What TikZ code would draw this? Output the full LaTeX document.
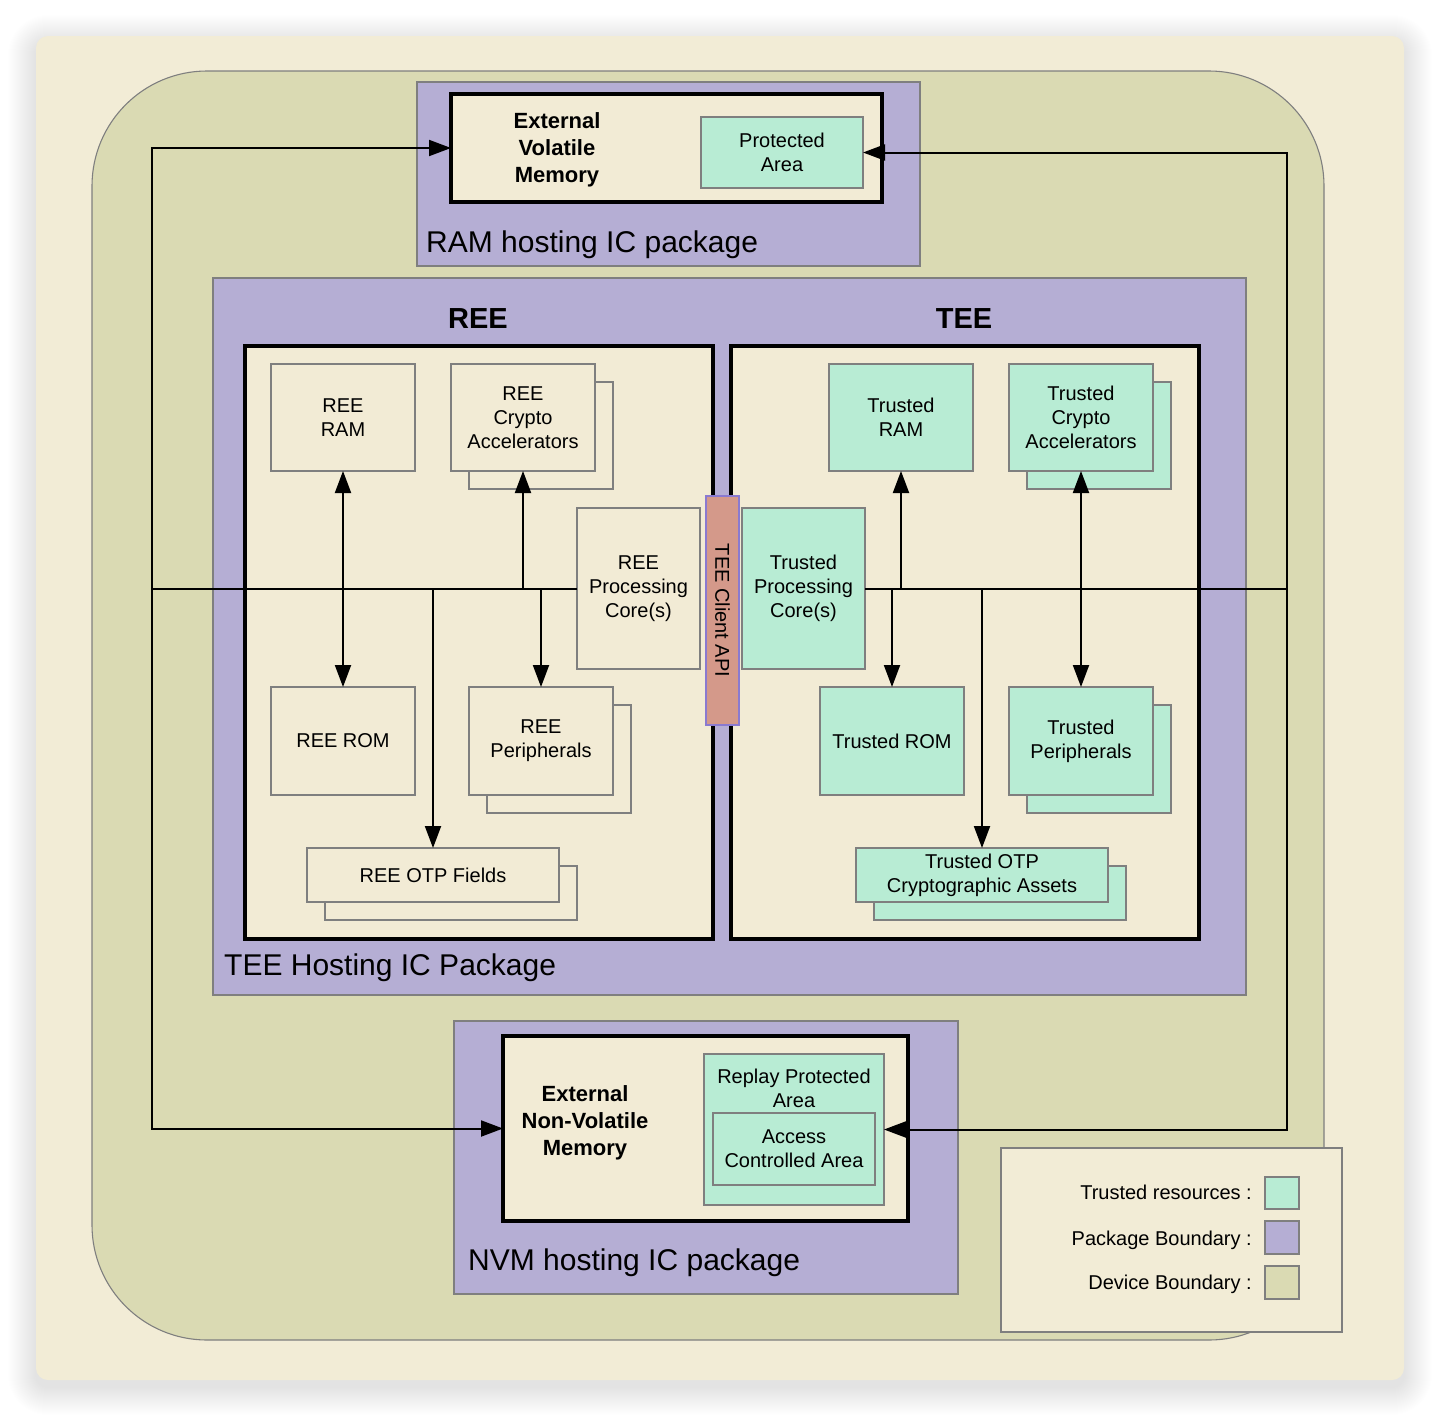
\documentclass[tikz,border=0pt]{standalone}
\usepackage{fontspec}
\setmainfont{Liberation Sans}
\usetikzlibrary{arrows.meta}
\definecolor{card}{HTML}{F2ECD6}
\definecolor{dev}{HTML}{DADAB3}
\definecolor{pkg}{HTML}{B5AED4}
\definecolor{mint}{HTML}{B8ECD4}
\definecolor{inner}{HTML}{F2EBD5}
\definecolor{apifill}{HTML}{D4998A}
\definecolor{apiedge}{HTML}{8A7AD0}
\definecolor{edge}{HTML}{7F7F7F}
\newcommand\fs[2]{\fontsize{#1}{#2}\selectfont}
\newcommand\bx[6]{\node[#1, minimum width={(#4-#2)*1pt}, minimum height={(#5-#3)*1pt}] (#6) at ({(#2+#4)/2},{(#3+#5)/2})}
\tikzset{
  rect/.style={rectangle, inner sep=0pt, outer sep=0pt},
  thinbox/.style={rect, draw=edge, line width=1.1pt},
  pkgbox/.style={thinbox, fill=pkg, line width=1.3pt},
  creambox/.style={thinbox, fill=inner},
  mintbox/.style={thinbox, fill=mint},
  devbox/.style={thinbox, fill=dev},
  heavybox/.style={rect, draw=black, line width=3.4pt, fill=inner},
  lbl/.style={font=\fs{20}{24}, align=center},
  boldlbl/.style={font=\bfseries\fs{22}{27}, align=center, inner sep=0pt},
  biglbl/.style={font=\fs{30}{34}, inner sep=0pt},
  titlelbl/.style={font=\bfseries\fs{29}{34}, inner sep=0pt},
  leglbl/.style={font=\fs{20}{24}, inner sep=0pt, anchor=base east},
  plain/.style={draw=black, line width=2pt},
  tip/.tip={Triangle[length=22pt,width=16pt]},
  conn/.style={draw=black, line width=2pt, -tip},
  dconn/.style={draw=black, line width=2pt, tip-tip},
}
\begin{document}
\begin{tikzpicture}[x=1pt,y=-1pt]
\useasboundingbox (0,0) rectangle (1440,1416);
\fill[white] (0,0) rectangle (1440,1416);
% card shadow
\foreach \i in {1,...,28}{
  \fill[black, opacity=0.0045, rounded corners={(12+\i)*1pt}] ({36-\i},{36-\i+7}) rectangle ({1404+\i},{1380+\i+7});
}
\fill[card, rounded corners=12pt] (36,36) rectangle (1404,1380);
% device boundary
\filldraw[fill=dev, draw=edge, line width=1.1pt, rounded corners=115pt] (92,71) rectangle (1324,1340);

% RAM package
\bx{pkgbox}{417}{82}{920}{266}{rampkg}{};
\bx{heavybox}{451}{94}{882}{202}{evm}{};
\bx{mintbox,lbl}{701}{117}{863}{188}{prot}{Protected\\Area};
\node[boldlbl] (evmt) at (557,150) {External\\Volatile\\Memory};
\node[biglbl, anchor=base west] (ramlbl) at (426,252) {RAM hosting IC package};

% TEE hosting package
\bx{pkgbox}{213}{278}{1246}{995}{teepkg}{};
\node[titlelbl, anchor=base] (reet) at (478,328) {REE};
\node[titlelbl, anchor=base] (teet) at (964,328) {TEE};
\bx{heavybox}{245}{346}{713}{939}{reebox}{};
\bx{heavybox}{731}{346}{1199}{939}{teebox}{};
\node[biglbl, anchor=base west] (teelbl) at (224,975) {TEE Hosting IC Package};

% REE items
\bx{creambox,lbl}{271}{364}{415}{471}{rram}{REE\\RAM};
\bx{creambox}{469}{382}{613}{489}{rcrb}{};
\bx{creambox,lbl}{451}{364}{595}{471}{rcr}{REE\\Crypto\\Accelerators};
\bx{creambox,lbl}{577}{508}{700}{669}{rproc}{REE\\Processing\\Core(s)};
\bx{creambox,lbl}{271}{687}{415}{795}{rrom}{REE ROM};
\bx{creambox}{487}{705}{631}{813}{rperb}{};
\bx{creambox,lbl}{469}{687}{613}{795}{rper}{REE\\Peripherals};
\bx{creambox}{325}{866}{577}{920}{rotpb}{};
\bx{creambox,lbl}{307}{848}{559}{902}{rotp}{REE OTP Fields};

% TEE items
\bx{mintbox,lbl}{829}{364}{973}{471}{tram}{Trusted\\RAM};
\bx{mintbox}{1027}{382}{1171}{489}{tcrb}{};
\bx{mintbox,lbl}{1009}{364}{1153}{471}{tcr}{Trusted\\Crypto\\Accelerators};
\bx{mintbox,lbl}{742}{508}{865}{669}{tproc}{Trusted\\Processing\\Core(s)};
\bx{mintbox,lbl}{820}{687}{964}{795}{trom}{Trusted ROM};
\bx{mintbox}{1027}{705}{1171}{813}{tperb}{};
\bx{mintbox,lbl}{1009}{687}{1153}{795}{tper}{Trusted\\Peripherals};
\bx{mintbox}{874}{866}{1126}{920}{totpb}{};
\bx{mintbox,lbl}{856}{848}{1108}{902}{totp}{Trusted OTP\\Cryptographic Assets};

% NVM package
\bx{pkgbox}{454}{1021}{958}{1294}{nvmpkg}{};
\bx{heavybox}{503}{1036}{908}{1221}{nvm}{};
\bx{mintbox}{704}{1054}{884}{1205}{rpa}{};
\node[lbl, inner sep=0pt] (rpat) at (794,1088.5) {Replay Protected\\Area};
\bx{mintbox,lbl}{713}{1113}{875}{1185}{aca}{Access\\Controlled Area};
\node[boldlbl] (nvmt) at (585,1123) {External\\Non-Volatile\\Memory};
\node[biglbl, anchor=base west] (nvmlbl) at (468,1270) {NVM hosting IC package};

% connectors
\coordinate (bl) at (152,588.5);
\coordinate (br) at (1287,588.5);
\draw[plain] (rproc.west) -- (bl);
\draw[conn] (bl) |- (evm.west);
\draw[conn] (bl) |- (nvm.west);
\draw[plain] (tproc.east) -- (br);
\draw[conn] (br) |- (prot.east);
\draw[conn] (br) |- (rpa.east);
\draw[dconn] (rram.south) -- (rrom.north);
\draw[conn] (rcr.south |- bl) -- (rcr.south);
\draw[conn] (rotp.north |- bl) -- (rotp.north);
\draw[conn] (rper.north |- bl) -- (rper.north);
\draw[conn] (tram.south |- br) -- (tram.south);
\draw[conn] (trom.north |- br) -- (trom.north);
\draw[conn] (totp.north |- br) -- (totp.north);
\draw[dconn] (tcr.south) -- (tper.north);

% TEE Client API
\node[rect, draw=apiedge, line width=1.1pt, fill=apifill, rotate=-90, minimum width=229pt, minimum height=33pt, font=\fs{20}{24}] (api) at (722.5,610.5) {TEE Client API};

% legend
\bx{thinbox,fill=card}{1001}{1148}{1342}{1332}{legend}{};
\bx{mintbox}{1265}{1177}{1299}{1209}{sw1}{};
\bx{pkgbox,line width=1.1pt}{1265}{1221}{1299}{1254}{sw2}{};
\bx{devbox}{1265}{1266}{1299}{1299}{sw3}{};
\node[leglbl] (lg1) at (1252,1199) {Trusted resources :};
\node[leglbl] (lg2) at (1252,1245) {Package Boundary :};
\node[leglbl] (lg3) at (1252,1289) {Device Boundary :};
\end{tikzpicture}
\end{document}
